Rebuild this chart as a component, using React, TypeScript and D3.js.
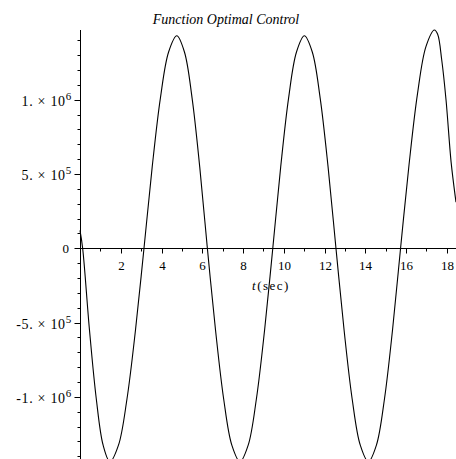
import React from "react";
import * as d3 from "d3";

// Control signal u(t) over the time horizon
const timeSec: number[] = [
  0, 0.13, 0.465, 0.8, 1.135, 1.47, 1.888, 2.305, 2.723, 3.14,
  3.543, 3.945, 4.348, 4.75, 5.125, 5.5, 5.875, 6.25,
  6.65, 7.05, 7.45, 7.85, 8.253, 8.655, 9.058, 9.46,
  9.848, 10.235, 10.623, 11.01, 11.398, 11.785, 12.173, 12.56,
  12.958, 13.355, 13.753, 14.15, 14.545, 14.94, 15.335, 15.73,
  16.145, 16.56, 16.975, 17.39, 17.55, 17.75, 17.96, 18.21, 18.43, 18.45,
];
const controlValue: number[] = [
  1.2e5, 0, -5.5e5, -1.014e6, -1.325e6, -1.436e6, -1.325e6, -1.014e6, -5.5e5, 0,
  5.48e5, 1.011e6, 1.321e6, 1.43e6, 1.321e6, 1.011e6, 5.48e5, 0,
  -5.5e5, -1.014e6, -1.325e6, -1.436e6, -1.325e6, -1.014e6, -5.5e5, 0,
  5.48e5, 1.011e6, 1.321e6, 1.43e6, 1.321e6, 1.011e6, 5.48e5, 0,
  -5.5e5, -1.014e6, -1.325e6, -1.436e6, -1.325e6, -1.014e6, -5.5e5, 0,
  5.62e5, 1.039e6, 1.357e6, 1.469e6, 1.44e6, 1.267e6, 1.0e6, 5.8e5, 3.3e5, 3.1e5,
];

const xMajorTicks: number[] = [2, 4, 6, 8, 10, 12, 14, 16, 18];
const xMinorTicks: number[] = [1, 3, 5, 7, 9, 11, 13, 15, 17];
const yMajorTicks: number[] = [-1e6, -5e5, 0, 5e5, 1e6];
const yTickMantissa: string[] = ["-1. × 10", "-5. × 10", "0", "5. × 10", "1. × 10"];
const yTickExponent: string[] = ["6", "5", "", "5", "6"];
const yMinorTicks: number[] = [
  -1.4e6, -1.3e6, -1.2e6, -1.1e6, -9e5, -8e5, -7e5, -6e5, -4e5, -3e5, -2e5, -1e5,
  1e5, 2e5, 3e5, 4e5, 6e5, 7e5, 8e5, 9e5, 1.1e6, 1.2e6, 1.3e6, 1.4e6,
];

const W = 456;
const H = 459;
const FONT = "'Liberation Serif', 'Times New Roman', serif";

export default function App() {
  const x = d3.scaleLinear().domain([0, 18.45]).range([80, 456]);
  const y = d3.scaleLinear().domain([-1.418e6, 1.469e6]).range([459, 30]);

  const axisX = Math.round(x(0)) + 0.5;
  const axisY = Math.round(y(0)) + 0.5;

  const points: [number, number][] = timeSec.map((t, i) => [t, controlValue[i]]);
  const line = d3
    .line<[number, number]>()
    .x((d) => x(d[0]))
    .y((d) => y(d[1]))
    .curve(d3.curveCatmullRom.alpha(0.5));

  return (
    <svg
      width={W}
      height={H}
      style={{ position: "absolute", left: 0, top: 0, background: "#fff" }}
    >
      <rect width={W} height={H} fill="#fff" />
      {/* title */}
      <text
        x={226}
        y={24}
        textAnchor="middle"
        fontFamily={FONT}
        fontStyle="italic"
        fontSize={14}
        fill="#000"
      >
        Function Optimal Control
      </text>

      {/* vertical axis */}
      <line x1={axisX} x2={axisX} y1={30} y2={H} stroke="#000" strokeWidth={1} />
      {yMinorTicks.map((v) => {
        const yy = Math.round(y(v)) + 0.5;
        return <line key={"ym" + v} x1={axisX - 3} x2={axisX} y1={yy} y2={yy} stroke="#000" />;
      })}
      {yMajorTicks.map((v, i) => {
        const yy = Math.round(y(v)) + 0.5;
        const isZero = !yTickExponent[i];
        return (
          <g key={"yM" + v}>
            <line x1={axisX - 6} x2={axisX} y1={yy} y2={yy} stroke="#000" />
            <text
              x={isZero ? 69 : 72}
              y={yy + (isZero ? 4.5 : 5)}
              textAnchor="end"
              fontFamily={FONT}
              fontSize={isZero ? 13 : 14}
              letterSpacing={isZero ? 0 : 0.7}
              fill="#000"
              style={{ whiteSpace: "pre" }}
            >
              {yTickMantissa[i]}
              {yTickExponent[i] ? (
                <tspan dy={-6} fontSize={11}>
                  {yTickExponent[i]}
                </tspan>
              ) : null}
            </text>
          </g>
        );
      })}

      {/* horizontal axis */}
      <line x1={axisX} x2={W} y1={axisY} y2={axisY} stroke="#000" strokeWidth={1} />
      {xMinorTicks.map((t) => {
        const xx = Math.round(x(t)) + 0.5;
        return <line key={"xm" + t} x1={xx} x2={xx} y1={axisY} y2={axisY + 3} stroke="#000" />;
      })}
      {xMajorTicks.map((t) => {
        const xx = Math.round(x(t)) + 0.5;
        return (
          <g key={"xM" + t}>
            <line x1={xx} x2={xx} y1={axisY} y2={axisY + 5} stroke="#000" />
            <text
              x={xx}
              y={axisY + 21}
              textAnchor="middle"
              fontFamily={FONT}
              fontSize={13}
              fill="#000"
            >
              {t}
            </text>
          </g>
        );
      })}
      <text
        x={271}
        y={axisY + 41}
        textAnchor="middle"
        fontFamily={FONT}
        fontSize={13}
        fill="#000"
        letterSpacing={1.5}
      >
        <tspan fontStyle="italic">t</tspan>(sec)
      </text>

      {/* control curve */}
      <path d={line(points) ?? ""} fill="none" stroke="#000" strokeWidth={1.1} />
    </svg>
  );
}
